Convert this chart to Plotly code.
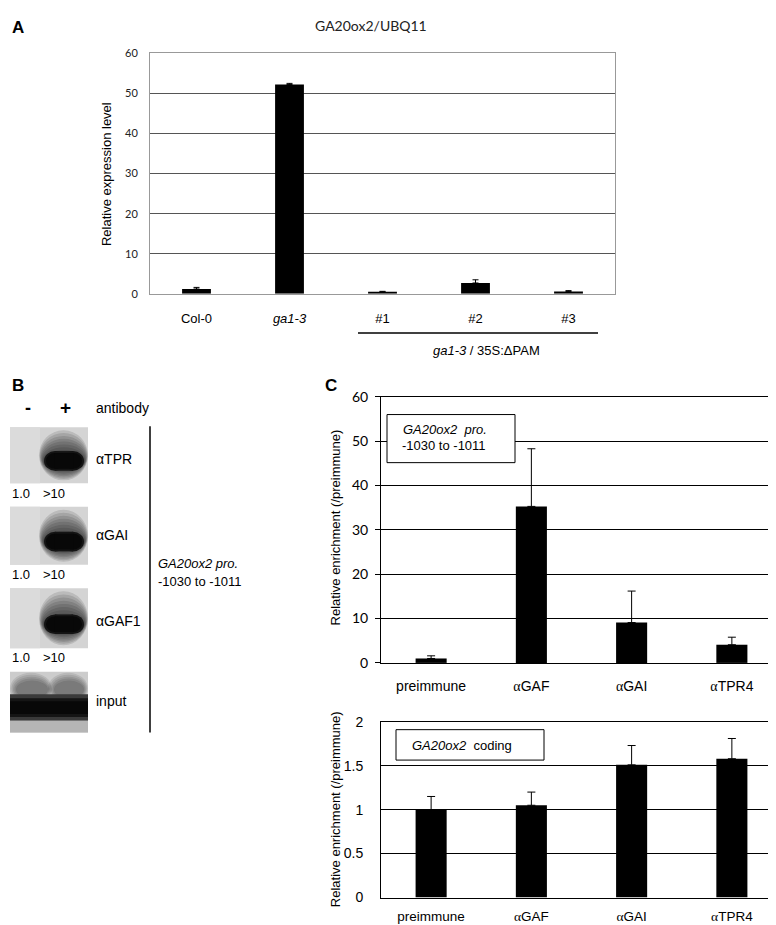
import plotly.graph_objects as go

W, H = 776, 925

# ---------------- data ----------------
a_categories = ["Col-0", "<i>ga1-3</i>", "#1", "#2", "#3"]
a_values = [1.2, 52.2, 0.5, 2.7, 0.6]
a_err = [0.4, 0.3, 0.12, 0.8, 0.2]

c_categories = ["preimmune", "<span style='font-family:Liberation Serif'>α</span>GAF",
                "<span style='font-family:Liberation Serif'>α</span>GAI",
                "<span style='font-family:Liberation Serif'>α</span>TPR4"]
c_pro_values = [1.0, 35.3, 9.1, 4.1]
c_pro_err = [0.6, 13.0, 7.1, 1.7]
c_cod_values = [1.0, 1.05, 1.51, 1.58]
c_cod_err = [0.15, 0.15, 0.22, 0.23]

a_yticks = [0, 10, 20, 30, 40, 50, 60]
c_pro_yticks = [0, 10, 20, 30, 40, 50, 60]
c_cod_yticks = [0, 0.5, 1, 1.5, 2]
c_cod_yticktext = ["0", "0.5", "1", "1.5", "2"]

blot_rows = ["αTPR", "αGAI", "αGAF1", "input"]
blot_ratio_neg = ["1.0", "1.0", "1.0"]
blot_ratio_pos = [">10", ">10", ">10"]

ARIAL = "Liberation Sans, Arial, sans-serif"
CALIBRI = "Lato, Liberation Sans, sans-serif"


def px(x):
    return x / W


def py(y):
    return 1 - y / H


fig = go.Figure()

fig.add_trace(go.Bar(
    x=a_categories, y=a_values, width=0.31, marker=dict(color="black", line=dict(width=0)),
    error_y=dict(type="data", array=a_err, arrayminus=[0] * len(a_err), symmetric=False,
                 color="black", thickness=1, width=3),
    xaxis="x", yaxis="y", showlegend=False))

fig.add_trace(go.Bar(
    x=c_categories, y=c_pro_values, width=0.31, marker=dict(color="black", line=dict(width=0)),
    error_y=dict(type="data", array=c_pro_err, arrayminus=[0] * 4, symmetric=False,
                 color="black", thickness=1, width=4),
    xaxis="x2", yaxis="y2", showlegend=False))

fig.add_trace(go.Bar(
    x=c_categories, y=c_cod_values, width=0.31, marker=dict(color="black", line=dict(width=0)),
    error_y=dict(type="data", array=c_cod_err, arrayminus=[0] * 4, symmetric=False,
                 color="black", thickness=1, width=4),
    xaxis="x3", yaxis="y3", showlegend=False))

# ---------------- axes ----------------
fig.update_layout(
    xaxis=dict(domain=[px(142), px(607)], anchor="y", showline=True, linecolor="#999999",
               linewidth=1, mirror=True, showgrid=False, ticks="", ticklabelstandoff=13,
               tickfont=dict(family=ARIAL, size=13, color="black"), fixedrange=True),
    yaxis=dict(domain=[py(282), py(37)], anchor="x", range=[0, 60], tickvals=a_yticks,
               showline=True, linecolor="#999999", linewidth=1, mirror=True,
               showgrid=True, gridcolor="#555555", gridwidth=1, zeroline=False, ticks="",
               ticklabelstandoff=9, tickfont=dict(family=CALIBRI, size=11, color="#222222")),
    xaxis2=dict(domain=[px(373), px(774)], anchor="y2", showline=True, linecolor="black",
                linewidth=1, mirror=True, showgrid=False, ticks="", ticklabelstandoff=10,
                tickfont=dict(family=ARIAL, size=14, color="black")),
    yaxis2=dict(domain=[py(658), py(387)], anchor="x2", range=[0, 60], tickvals=c_pro_yticks,
                showline=True, linecolor="black", linewidth=1, mirror=True,
                showgrid=True, gridcolor="black", gridwidth=1, zeroline=False,
                ticks="outside", ticklen=5, tickcolor="black", ticklabelstandoff=4,
                tickfont=dict(family=CALIBRI, size=14, color="black")),
    xaxis3=dict(domain=[px(373), px(774)], anchor="y3", showline=True, linecolor="black",
                linewidth=1, mirror=True, showgrid=False, ticks="", ticklabelstandoff=6,
                tickfont=dict(family=ARIAL, size=13.5, color="black")),
    yaxis3=dict(domain=[py(897), py(718)], anchor="x3", range=[0, 2], tickvals=c_cod_yticks,
                ticktext=c_cod_yticktext,
                showline=True, linecolor="black", linewidth=1, mirror=True,
                showgrid=True, gridcolor="black", gridwidth=1, zeroline=False,
                ticks="", ticklabelstandoff=14,
                tickfont=dict(family=ARIAL, size=14, color="black")),
)

shapes = []
ann = []


def text(x, y, s, size=13, xanchor="center", family=ARIAL, bold=False, angle=0, color="black"):
    if bold:
        s = "<b>" + s + "</b>"
    ann.append(dict(x=px(x), y=py(y), xref="paper", yref="paper", text=s, showarrow=False,
                    xanchor=xanchor, yanchor="middle", textangle=angle,
                    font=dict(family=family, size=size, color=color)))


def line(x0, y0, x1, y1, w=1.5, color="black"):
    shapes.append(dict(type="line", xref="paper", yref="paper", x0=px(x0), y0=py(y0),
                       x1=px(x1), y1=py(y1), line=dict(color=color, width=w), layer="above"))


def rect(x0, y0, x1, y1, fill, lw=0, lc="black"):
    shapes.append(dict(type="rect", xref="paper", yref="paper", x0=px(x0), y0=py(y0),
                       x1=px(x1), y1=py(y1), fillcolor=fill,
                       line=dict(color=lc, width=lw), layer="above"))


def ell(x0, y0, x1, y1, fill):
    shapes.append(dict(type="circle", xref="paper", yref="paper", x0=px(x0), y0=py(y0),
                       x1=px(x1), y1=py(y1), fillcolor=fill,
                       line=dict(width=0), layer="above"))


def halo(ox0, oy0, ox1, oy1, ix0, iy0, ix1, iy1, steps, alpha):
    for i in range(steps):
        t = i / (steps - 1)
        ell(ox0 + (ix0 - ox0) * t, oy0 + (iy0 - oy0) * t,
            ox1 + (ix1 - ox1) * t, oy1 + (iy1 - oy1) * t, f"rgba(10,10,10,{alpha})")


def band(x0, yc, x1, hh, color):
    # rounded band: two end caps + middle rect, all opaque
    r = hh * 1.1
    ell(x0, yc - hh, x0 + 2 * r, yc + hh, color)
    ell(x1 - 2 * r, yc - hh, x1, yc + hh, color)
    rect(x0 + r, yc - hh, x1 - r, yc + hh, color)


# ---------------- panel A decorations ----------------
text(10, 11, "A", size=17, bold=True)
text(363, 9, "GA20ox2/UBQ11", size=14, family=CALIBRI, color="#222222")
text(98, 160, "Relative expression level", size=13, angle=-90)
line(350, 322, 590, 322, w=1.5)
text(478, 340, "<i>ga1-3</i> / 35S:ΔPAM", size=13)

# ---------------- panel B (blots) ----------------
text(10, 375, "B", size=17, bold=True)
text(20, 398, "-", size=18, bold=True)
text(57, 398, "+", size=19, bold=True)
text(86, 398, "antibody", size=14, xanchor="left")

blot_boxes = [(418, 475), (499, 558), (582, 643), (667, 729)]
for (y0, y1) in blot_boxes[:3]:
    rect(2, y0, 80, y1, "#d4d4d4")
    rect(2, y0, 32, y1, "#dbdbdb")
    yc = y0 + (y1 - y0) * 0.6
    halo(31, y0 + 3, 80, y1 - 3, 35, yc - 11, 77, yc + 10, 8, 0.12)
    band(36, yc, 76, 10, "#141414")
    band(38, yc, 74, 8, "#080808")

# input blot
y0, y1 = blot_boxes[3]
rect(2, y0, 80, y1, "#cccccc")
halo(2, 668, 44, 700, 8, 676, 40, 694, 5, 0.1)
halo(40, 668, 80, 700, 46, 676, 76, 694, 5, 0.1)
rect(2, 690, 80, 717, "#3a3a3a")
rect(2, 694, 80, 713, "#151515")
rect(2, 697, 80, 710, "#080808")
rect(2, 717, 80, 729, "#b5b5b5")

label_y = [450, 528, 615, 697]
for lab, yy in zip(blot_rows, label_y):
    text(86, yy, lab, size=14, xanchor="left")

ratio_y = [485, 568, 653]
for n, p, yy in zip(blot_ratio_neg, blot_ratio_pos, ratio_y):
    text(13, yy, n, size=13)
    text(46, yy, p, size=13)

line(142, 417, 142, 729, w=1.5)
text(148, 557, "<i>GA20ox2 pro.</i>", size=13, xanchor="left")
text(148, 575, "-1030 to -1011", size=13, xanchor="left")

# ---------------- panel C decorations ----------------
text(323, 375, "C", size=17, bold=True)
text(327, 520, "Relative enrichment (/preimmune)", size=13, angle=-90)
text(327, 807, "Relative enrichment (/preimmune)", size=13, angle=-90)

rect(379, 405, 507, 454, "white", lw=1)
text(393, 420, "<i>GA20ox2&nbsp; pro.</i>", size=13, xanchor="left")
text(392, 437, "-1030 to -1011", size=13, xanchor="left")

rect(388, 726, 536, 757, "white", lw=1)
text(402, 742, "<i>GA20ox2</i>&nbsp; coding", size=13, xanchor="left")

fig.update_layout(
    width=W, height=H, margin=dict(l=0, r=0, t=0, b=0),
    paper_bgcolor="white", plot_bgcolor="rgba(0,0,0,0)",
    font=dict(family=ARIAL, color="black"),
    shapes=shapes, annotations=ann, showlegend=False, bargap=0.69,
)

fig.write_html("out.html")
